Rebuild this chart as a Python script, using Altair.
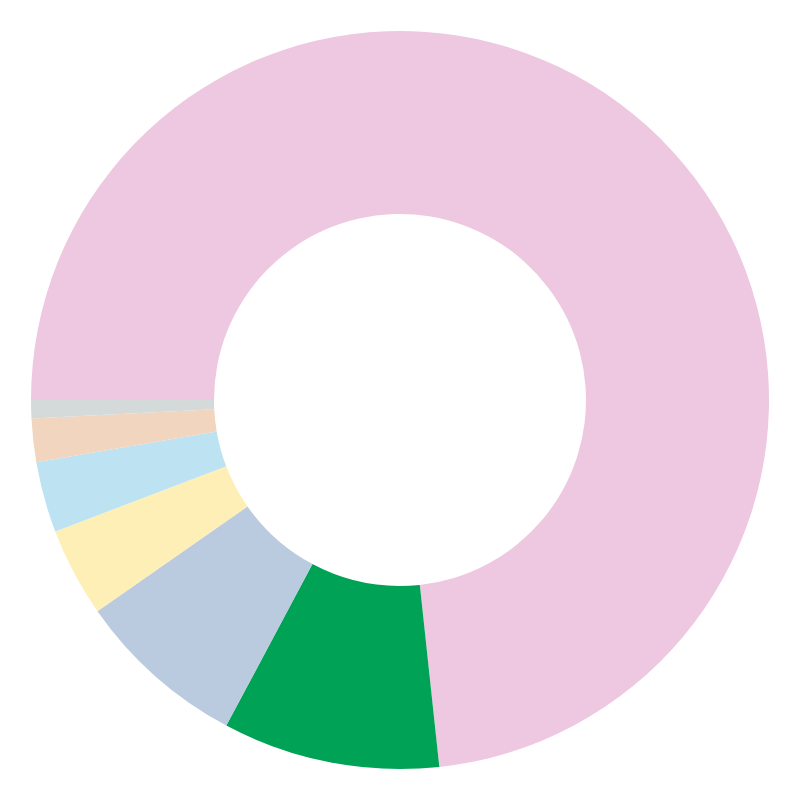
import math
import altair as alt
import pandas as pd

categories = ["A", "B", "C", "D", "E", "F", "G"]
values = [73.3, 9.5, 7.5, 3.9, 3.1, 1.9, 0.8]
colors = ["#EEC7E1", "#00A355", "#BACBDF", "#FEEFB7", "#BDE2F2", "#F1D5BF", "#D4DADA"]

df = pd.DataFrame({"cat": categories, "value": values, "idx": list(range(len(values)))})

start = 1.5 * math.pi
chart = (
    alt.Chart(df)
    .mark_arc(radius=369, innerRadius=186, stroke=None)
    .encode(
        theta=alt.Theta("value:Q", stack=True, scale=alt.Scale(range=[start, start + 2 * math.pi])),
        color=alt.Color("cat:N", scale=alt.Scale(domain=categories, range=colors), legend=None),
        order=alt.Order("idx:Q"),
    )
    .properties(width=784, height=784, padding=0)
    .configure_view(stroke=None)
)

chart.save("out.html", embed_options={"renderer": "svg", "actions": False})
